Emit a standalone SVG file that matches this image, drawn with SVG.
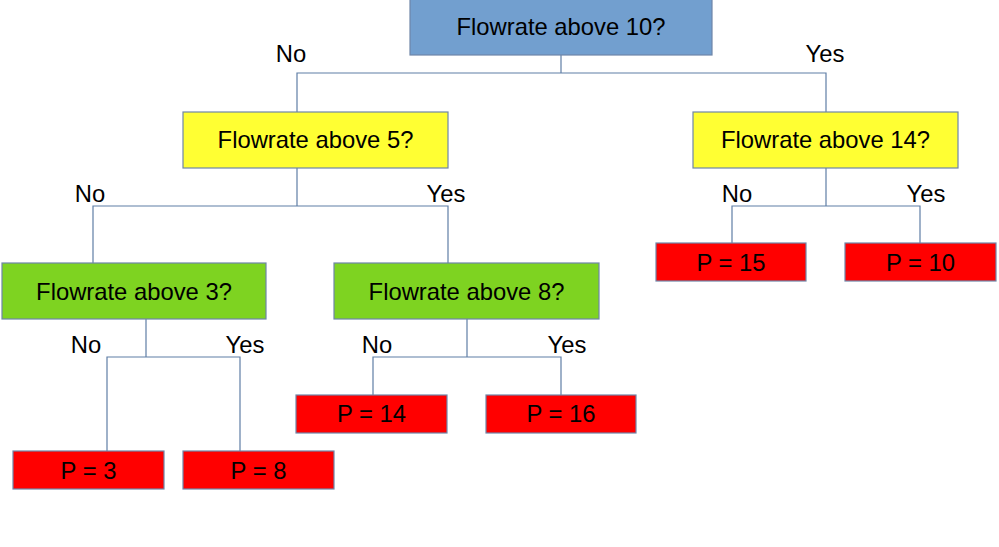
<svg xmlns="http://www.w3.org/2000/svg" width="999" height="547" viewBox="0 0 999 547">
<style>
  text { font-family: "Liberation Sans", Arial, sans-serif; font-size: 23.8px; fill: #000; }
  .c { text-anchor: middle; }
  .box { stroke: #6f86a8; stroke-width: 1.2; }
  .root { fill: #729fcf; }
  .yel { fill: #ffff33; }
  .grn { fill: #7ed321; }
  .red { fill: #ff0000; }
  .conn path { fill: none; stroke: #5f7ea6; stroke-width: 1.2; }
</style>
<rect width="999" height="547" fill="#ffffff"/>
<g class="conn" id="connectors">
  <path d="M561,55 V73 M297,112 V73 H826 V112"/>
  <path d="M297,168 V206 M93,263 V206 H448 V263"/>
  <path d="M826,168 V206 M732,243 V206 H920 V243"/>
  <path d="M146,319 V357 M107,451 V357 H240 V451"/>
  <path d="M467,319 V357 M373,395 V357 H561 V395"/>
</g>
<g class="labels">
  <text class="c" x="291" y="62">No</text>
  <text class="c" x="825" y="62">Yes</text>
  <text class="c" x="90" y="202">No</text>
  <text class="c" x="446" y="202">Yes</text>
  <text class="c" x="737" y="202">No</text>
  <text class="c" x="926" y="202">Yes</text>
  <text class="c" x="86" y="353">No</text>
  <text class="c" x="245" y="353">Yes</text>
  <text class="c" x="377" y="353">No</text>
  <text class="c" x="567" y="353">Yes</text>
</g>
<g id="n-root"><rect class="box root" x="410" y="-1" width="302" height="56"/><text class="c" x="561" y="35">Flowrate above 10?</text></g>
<g id="n-gt5"><rect class="box yel" x="183" y="112" width="265" height="56"/><text class="c" x="315.5" y="148">Flowrate above 5?</text></g>
<g id="n-gt14"><rect class="box yel" x="693" y="112" width="265" height="56"/><text class="c" x="825.5" y="148">Flowrate above 14?</text></g>
<g id="n-gt3"><rect class="box grn" x="2" y="263" width="264" height="56"/><text class="c" x="134" y="300">Flowrate above 3?</text></g>
<g id="n-gt8"><rect class="box grn" x="334" y="263" width="265" height="56"/><text class="c" x="466.5" y="300">Flowrate above 8?</text></g>
<g id="n-p15"><rect class="box red" x="656" y="243" width="150" height="38"/><text class="c" x="731" y="271">P = 15</text></g>
<g id="n-p10"><rect class="box red" x="845" y="243" width="151" height="38"/><text class="c" x="920.5" y="271">P = 10</text></g>
<g id="n-p14"><rect class="box red" x="296" y="395" width="151" height="38"/><text class="c" x="371.5" y="422">P = 14</text></g>
<g id="n-p16"><rect class="box red" x="486" y="395" width="150" height="38"/><text class="c" x="561" y="422">P = 16</text></g>
<g id="n-p3"><rect class="box red" x="13" y="451" width="151" height="38"/><text class="c" x="88.5" y="479">P = 3</text></g>
<g id="n-p8"><rect class="box red" x="183" y="451" width="151" height="38"/><text class="c" x="258.5" y="479">P = 8</text></g>
</svg>
